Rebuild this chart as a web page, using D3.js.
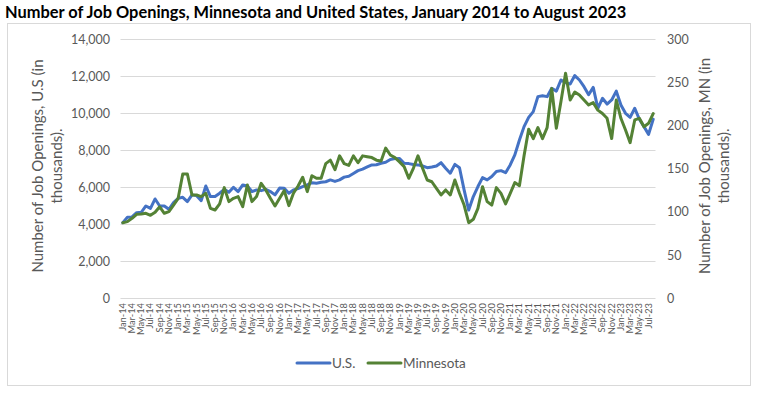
<!DOCTYPE html>
<html>
<head>
<meta charset="utf-8">
<script src="https://cdn.jsdelivr.net/npm/d3@7/dist/d3.min.js"></script>
<style>
  body { margin: 0; background: #fff; }
  text { font-family: Lato, "Open Sans", sans-serif; }
</style>
</head>
<body>
<svg id="chart" width="760" height="398"></svg>
<script>
// monthly, Jan 2014 .. Aug 2023 (thousands)
const monthNames = ['Jan','Feb','Mar','Apr','May','Jun','Jul','Aug','Sep','Oct','Nov','Dec'];
const usValues = [
  4090, 4380, 4400, 4630, 4650, 4990, 4860, 5370, 4990, 4990, 4810, 5170,
  5400, 5460, 5230, 5590, 5550, 5280, 6070, 5500, 5500, 5680, 5890, 5730,
  6000, 5770, 6130, 6070, 5770, 5860, 5820, 5890, 5770, 5590, 5960, 5950,
  5680, 5860, 5930, 6040, 6130, 6250, 6220, 6270, 6300, 6400, 6320, 6400,
  6550, 6600, 6750, 6900, 6980, 7100, 7210, 7220, 7300, 7350, 7500, 7550,
  7560, 7300, 7280, 7230, 7210, 7150, 7060, 7100, 7150, 7330, 7030, 6760,
  7240, 7060, 5860, 4770, 5500, 6040, 6520, 6400, 6580, 6850, 6900, 6790,
  7210, 7750, 8560, 9280, 9780, 10090, 10900, 10950, 10900, 11350, 11200, 11800,
  11660, 11580, 12040, 11800, 11440, 11000, 11400, 10270, 10810, 10500, 10720, 11200,
  10450, 10000, 9780, 10270, 9680, 9280, 8860, 9680
];
const mnValues = [
  87.6, 88.8, 92.7, 97.3, 97.7, 98.5, 96.1, 99.6, 106, 98.5, 100.4, 108,
  115.8, 144, 144, 119.7, 119.7, 117.8, 121.6, 104.2, 102.3, 109.3, 128.2, 112,
  115.8, 117.8, 106.2, 131.3, 112, 117.8, 133.2, 125.5, 115.8, 107, 115.8, 124.7,
  107.3, 121.6, 130, 140.2, 123.6, 142, 139, 139, 156, 160, 149, 165,
  156, 154, 165, 157, 165, 164, 163, 160, 159, 174, 166, 163,
  158, 152.5, 139, 150.6, 165, 150.6, 137, 135, 127.4, 119.7, 125.5, 119.7,
  137, 121.6, 108, 87.6, 91.5, 104.2, 129.3, 112, 108, 128.2, 121.6, 109.3,
  121.6, 134, 130.5, 165, 195.8, 185, 197.7, 185, 197.7, 243, 197, 228,
  260.6, 229.7, 239, 235.5, 229.7, 224, 226.6, 218, 214, 208.5, 185, 229.7,
  208.5, 195, 180.3, 206.6, 208.5, 198.8, 202.7, 214
];
const months = usValues.map((_, i) => {
  const y = 14 + Math.floor(i / 12);
  return `${monthNames[i % 12]}-${y}`;
});
const leftTicks = [0, 2000, 4000, 6000, 8000, 10000, 12000, 14000];
const rightTicks = [0, 50, 100, 150, 200, 250, 300];

const svg = d3.select('#chart');
const grey = '#595959';

// outer chart border
svg.append('rect').attr('x', 7.5).attr('y', 23.5).attr('width', 743).attr('height', 362)
  .attr('fill', 'none').attr('stroke', '#d9d9d9');

svg.append('text').attr('x', 5).attr('y', 18)
  .attr('font-weight', 'bold').attr('font-size', 16.4).attr('fill', '#000')
  .text('Number of Job Openings, Minnesota and United States, January 2014 to August 2023');

const x = d3.scaleBand().domain(months).range([120.5, 655.5]);
const cx = d => x(d) + x.bandwidth() / 2;
const yL = d3.scaleLinear().domain([0, 14000]).range([298.3, 39.3]);
const yR = d3.scaleLinear().domain([0, 300]).range([298.3, 39.3]);

// gridlines
svg.append('g').selectAll('line').data(leftTicks).join('line')
  .attr('x1', 120.5).attr('x2', 655.5)
  .attr('y1', d => Math.round(yL(d)) + 0.5).attr('y2', d => Math.round(yL(d)) + 0.5)
  .attr('stroke', '#d9d9d9').attr('stroke-width', 1);

// left axis labels
svg.append('g').selectAll('text').data(leftTicks).join('text')
  .attr('x', 110).attr('y', d => yL(d) + 4.5)
  .attr('text-anchor', 'end').attr('font-size', 12.5).attr('fill', grey)
  .text(d3.format(','));

// right axis labels
svg.append('g').selectAll('text').data(rightTicks).join('text')
  .attr('x', 667).attr('y', d => yR(d) + 4.5)
  .attr('text-anchor', 'start').attr('font-size', 12.5).attr('fill', grey)
  .text(d => d);

// x labels, every other month
svg.append('g').selectAll('text').data(months.filter((_, i) => i % 2 === 0)).join('text')
  .attr('transform', d => `translate(${cx(d) + 3},${303}) rotate(-90)`)
  .attr('text-anchor', 'end').attr('font-size', 9.3).attr('fill', grey)
  .text(d => d);

// axis titles
svg.append('text').attr('transform', 'translate(38,166) rotate(-90)')
  .attr('text-anchor', 'middle').attr('font-size', 15).attr('fill', grey)
  .selectAll('tspan').data(['Number of Job Openings, U.S (in', 'thousands).']).join('tspan')
  .attr('x', 0).attr('dy', (d, i) => i ? 19 : 5).text(d => d);

svg.append('text').attr('transform', 'translate(705,166) rotate(-90)')
  .attr('text-anchor', 'middle').attr('font-size', 15).attr('fill', grey)
  .selectAll('tspan').data(['Number of Job Openings, MN (in', 'thousands).']).join('tspan')
  .attr('x', 0).attr('dy', (d, i) => i ? 19 : 5).text(d => d);

// lines
const lineL = d3.line().x((d, i) => cx(months[i])).y(d => yL(d));
const lineR = d3.line().x((d, i) => cx(months[i])).y(d => yR(d));
svg.append('path').datum(usValues).attr('d', lineL)
  .attr('fill', 'none').attr('stroke', '#4472C4').attr('stroke-width', 3)
  .attr('stroke-linejoin', 'round').attr('stroke-linecap', 'round');
svg.append('path').datum(mnValues).attr('d', lineR)
  .attr('fill', 'none').attr('stroke', '#548235').attr('stroke-width', 3)
  .attr('stroke-linejoin', 'round').attr('stroke-linecap', 'round');

// legend
const legend = [
  { name: 'U.S.', color: '#4472C4', x: 297 },
  { name: 'Minnesota', color: '#548235', x: 368 }
];
const lg = svg.append('g');
legend.forEach(l => {
  lg.append('line').attr('x1', l.x).attr('x2', l.x + 33).attr('y1', 363).attr('y2', 363)
    .attr('stroke', l.color).attr('stroke-width', 3).attr('stroke-linecap', 'round');
  lg.append('text').attr('x', l.x + 35).attr('y', 367.5)
    .attr('font-size', 13.5).attr('fill', grey).text(l.name);
});
</script>
</body>
</html>
